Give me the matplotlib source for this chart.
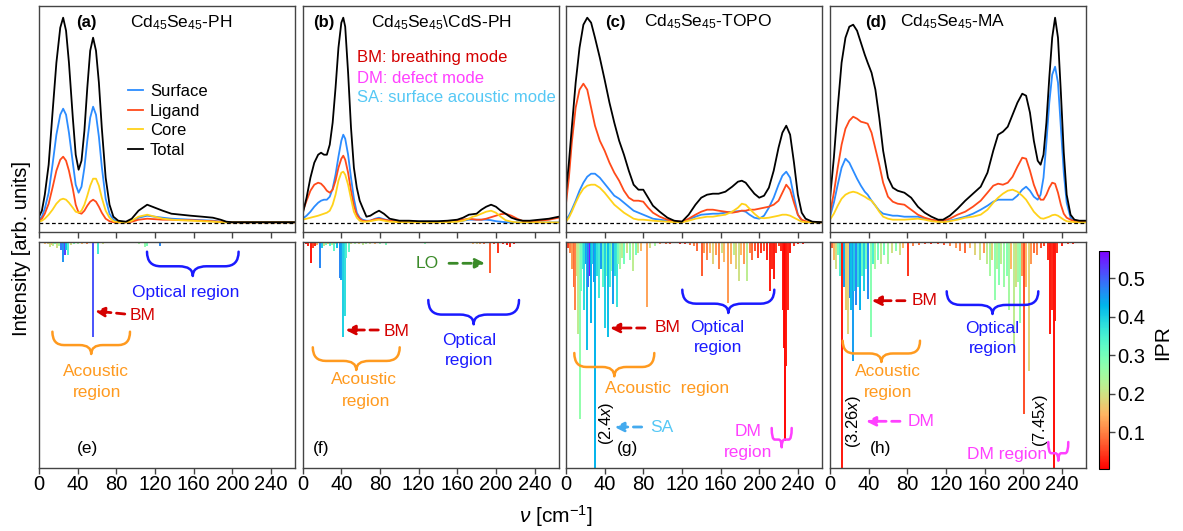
import numpy as np
import matplotlib
matplotlib.use('Agg')
import matplotlib.pyplot as plt
from matplotlib.path import Path
from matplotlib.patches import PathPatch, FancyArrowPatch
from matplotlib.colors import Normalize
from matplotlib.cm import ScalarMappable

plt.rcParams['font.family'] = ['Liberation Sans', 'DejaVu Sans']
plt.rcParams['mathtext.fontset'] = 'custom'
plt.rcParams['mathtext.rm'] = 'Liberation Sans'
plt.rcParams['mathtext.it'] = 'Liberation Sans:italic'
plt.rcParams['mathtext.bf'] = 'Liberation Sans:bold'

# ---------------- DATA: projected phonon DOS (top row) ----------------
a_x = [0,3,6,10,14,18,22,25,28,31,35,38,41,44,47,50,53,56,59,62,65,69,73,77,82,90,96,103,112,120,128,137,147,157,169,180,188,194,200,265]
a_total = [6,12,28,58,110,160,195,205,192,160,105,68,53,62,92,135,172,185,172,140,95,45,18,6,2,1,4,12,18,15,12,9,8,7,6,5,3,1,0.5,0.5]
a_surface = [3,6,14,30,58,88,108,114,108,90,60,38,30,36,55,82,105,116,108,86,56,24,9,3,1,0.5,1.5,5,7,6,5,4,3.5,3,2.5,2,1,0.5,0.3,0.3]
a_ligand = [2,4,9,19,35,52,63,66,62,52,34,18,10,9,12,17,21,23,21,16,10,4,1.5,0.5,0.3,0.3,1,3,4,3.5,3,3,2.5,2.5,2,1.5,1,0.5,0.3,0.3]
a_core = [1,2,4,8,13,19,23,24,23,20,15,11,10,12,18,27,37,44,44,37,25,12,5,1.5,0.5,0.3,2,6,8,6,4,3,2.5,2,1.5,1,0.5,0.3,0.3,0.3]

b_x = [0,4,8,12,16,19,22,25,28,31,34,37,40,42,44,47,50,53,56,59,62,66,70,75,79,84,90,100,110,120,130,140,150,160,166,172,176,180,185,190,195,200,205,210,216,222,228,235,245,255,265]
b_total = [9,25,45,60,68,70,68,68,78,100,135,175,200,205,196,150,95,55,35,22,15,6,7,10,12,9,4,2,2,1.5,1.5,1.5,2,3,5,8,8.5,9,13,16,18,16,12,9,5,3,2,2,3,4,6]
b_surface = [4,7,11,16,20,22,23,23,26,34,48,66,82,88,84,68,45,24,10,5,3,2,2,4,5,3.5,2,1.5,1,1,1,1,1,1.5,2,3,3,3,3,3,2.5,1.5,1,0.5,0.3,0.3,0.3,0.3,0.3,0.3,0.3]
b_ligand = [11,22,32,38,40,39,36,32,30,33,42,55,64,67,63,50,32,17,8,4,2,1.5,2,3.5,4,3,2,1,0.5,0.5,0.5,0.5,1,2,3,4,3.5,3,3,4,5.5,7,8.5,9,7,4,1.5,1,2,3,5]
b_core = [3,4,5,6,7,8,9,10,12,18,28,42,50,51,48,38,24,11,5,2,1,1,1.5,2.5,3,2,1,0.5,0.5,0.3,0.3,0.3,0.5,1,2,4,6,7,9,11,12,10,6,2.5,1,0.3,0.3,0.3,0.3,0.3,0.3]

c_x = [0,3,6,10,14,18,22,26,30,35,40,45,50,55,60,65,70,75,80,85,90,97,105,112,120,127,134,140,146,152,158,165,172,178,182,186,190,195,200,205,210,215,220,224,228,232,236,240,244,248,255,265]
c_total = [31,60,95,140,175,198,205,200,185,165,143,120,100,82,68,52,38,33,33,25,17,11,5,2,1,8,18,25,28,29,29,31,36,41,42,40,35,29,25,27,35,52,75,90,97,88,60,28,10,4,1,0.5]
c_surface = [3,7,13,22,32,40,46,49,49,45,39,33,27,24,20,16,12,10,8,6,4,3,2,1.5,1,3,6,8,8.5,9,9,10,11,11.5,12,11,8,5,4,7,15,25,38,47,51,45,26,8,2,0.5,0.3,0.3]
c_ligand = [19,45,80,115,133,139,133,115,97,82,72,60,50,42,32,25,22,22,21,15,10,6,3,1.5,1,4,8,11,13,13,12,11,10,11,12,12,13,13,14,15,16,18,22,30,38,33,20,8,3,1.5,0.5,0.3]
c_core = [1,5,11,20,28,34,37,38,38,35,30,24,18,14,10,7,4,3,3,2.5,2,1.5,1,0.5,0.3,2,4,5,6,6,7,8,11,15,19,18,14,9,5,4.5,5,6,7,8,8,7,5,3,1,0.5,0.3,0.3]

d_x = [0,4,8,12,16,20,24,28,32,36,39,43,47,51,55,60,65,70,77,84,91,98,105,112,117,124,132,140,148,156,163,169,174,179,184,189,194,199,203,207,211,215,218,221,224,227,230,233,236,239,242,245,249,253,258,265]
d_total = [24,65,115,160,185,196,198,192,180,168,160,150,133,105,72,45,35,32,30,25,16,10,6,3,3,7,14,22,29,36,50,72,88,91,96,108,120,129,127,110,82,62,58,68,100,145,185,205,185,130,70,28,8,3,2,2]
d_surface = [6,20,38,55,64,60,52,44,37,31,28,22,17,12,9,8,7,7,6,6,6,4,2.5,1.5,1,2,4,6,9,13,17,21,23,23,23,23,27,33,36,32,26,23,28,45,80,120,148,156,140,95,50,20,5,1,0.5,0.5]
d_ligand = [9,30,55,78,94,102,106,104,101,100,99,90,74,58,40,26,21,19,18,13,8,5,3,2,2,4,8,11,16,22,30,37,39,38,40,46,56,65,64,52,38,28,23,23,28,35,40,39,30,18,9,5,3,1.5,1,1]
d_core = [3,9,17,24,28,30,31,30,28,26,24,22,17,11,6,4,3,3,3,3.5,4,3,1.5,0.8,0.5,1.5,3,5,6,8,13,20,25,29,32,33,31,27,23,17,11,7,4.5,4,5,6,7.5,8,7,5,3,1.5,1,0.5,0.3,0.3]

# ---------------- DATA: mode intensities and IPR (bottom row) ----------------
e_freq = [6,9,11,13,15,17,19,21,23,25,26.5,28,30,33,36,40,45,50,56,61,66,72,80,88,96,104,109.5,111.5,118,125,132,140,150,160,170,180,190,200,210,220,232,245,258]
e_int = [0.008,0.012,0.025,0.015,0.02,0.012,0.028,0.018,0.035,0.09,0.06,0.035,0.06,0.015,0.01,0.008,0.01,0.008,0.42,0.056,0.008,0.006,0.005,0.006,0.005,0.008,0.025,0.018,0.006,0.02,0.005,0.006,0.005,0.004,0.005,0.004,0.004,0.005,0.004,0.004,0.003,0.003,0.003]
e_ipr = [0.15,0.18,0.2,0.16,0.22,0.3,0.2,0.25,0.48,0.46,0.53,0.42,0.34,0.2,0.3,0.25,0.15,0.1,0.51,0.36,0.2,0.1,0.25,0.15,0.08,0.25,0.27,0.3,0.05,0.47,0.1,0.12,0.05,0.08,0.03,0.06,0.02,0.04,0.03,0.02,0.03,0.02,0.03]

f_freq = [3,5,8.9,11,13,15,18.2,20,22,24,26,28,30,32,34,36,38.3,40,41.8,43.5,45.2,47.6,50,54,58,62,66,70,75,80,86,92,100,110,120,127,135,145,155,163,170,176,180,184,188,193.8,198,202.4,207,211,215,219,225,232,240,248,256,262]
f_int = [0.01,0.02,0.093,0.03,0.02,0.015,0.115,0.03,0.02,0.015,0.01,0.02,0.015,0.04,0.01,0.03,0.16,0.17,0.42,0.33,0.07,0.045,0.01,0.012,0.008,0.015,0.01,0.012,0.008,0.01,0.015,0.006,0.006,0.005,0.004,0.012,0.004,0.004,0.005,0.006,0.006,0.008,0.012,0.01,0.008,0.137,0.01,0.049,0.01,0.015,0.025,0.01,0.006,0.005,0.005,0.004,0.005,0.004]
f_ipr = [0.02,0.03,0.02,0.05,0.03,0.15,0.47,0.4,0.2,0.3,0.18,0.35,0.22,0.33,0.2,0.42,0.47,0.45,0.4,0.38,0.35,0.33,0.2,0.25,0.18,0.22,0.25,0.2,0.15,0.28,0.3,0.1,0.2,0.15,0.1,0.28,0.1,0.05,0.08,0.1,0.12,0.15,0.18,0.12,0.08,0.07,0.05,0.04,0.03,0.02,0.03,0.02,0.03,0.02,0.03,0.02,0.03,0.02]

g_freq = [2,4,6,8,9.3,11,12.8,14.5,16,17.5,19,20.3,21.4,23,24.5,25.5,27,28.5,30.1,32,34,36,38,40.4,42,43.9,46,47.5,49,50.8,52.5,54,56,58,60,63,66,69.8,72,75,78,83.6,87,92,97,103,108,113,118,123,
          128,132,136,140.6,143,146,149,152,155,158,161,164,168.2,171,174,176,178.6,181,184,187.2,190,193,196,199,202,205,208,211.4,213,214.8,217,220,223,
          225,226,227,228,229.5,232,236,240,245,250,256,261]
g_int = [0.03,0.05,0.12,0.2,0.3,0.15,0.41,0.786,0.22,0.12,0.3,0.1,0.477,0.2,0.153,0.36,0.1,0.18,2.4,0.15,0.25,0.12,0.2,0.38,0.15,0.42,0.2,0.13,0.276,0.15,0.29,0.1,0.12,0.07,0.1,0.05,0.08,0.13,0.06,0.05,0.04,0.29,0.03,0.02,0.012,0.008,0.01,0.006,0.008,0.01,
         0.015,0.02,0.04,0.15,0.05,0.08,0.05,0.1,0.06,0.12,0.05,0.09,0.27,0.1,0.06,0.12,0.175,0.06,0.1,0.175,0.05,0.08,0.04,0.07,0.05,0.04,0.08,0.218,0.12,0.166,0.05,0.02,0.04,
         0.3,0.47,0.88,0.55,0.3,0.05,0.02,0.01,0.008,0.006,0.005,0.005]
g_ipr = [0.05,0.1,0.12,0.08,0.1,0.2,0.22,0.27,0.3,0.35,0.38,0.45,0.42,0.48,0.56,0.43,0.4,0.47,0.43,0.38,0.36,0.45,0.33,0.4,0.3,0.42,0.35,0.28,0.45,0.38,0.37,0.3,0.25,0.22,0.3,0.2,0.28,0.22,0.3,0.2,0.15,0.13,0.2,0.25,0.1,0.08,0.05,0.03,0.02,0.04,
         0.08,0.1,0.08,0.07,0.12,0.1,0.15,0.18,0.12,0.1,0.2,0.15,0.12,0.14,0.22,0.18,0.2,0.15,0.12,0.22,0.1,0.08,0.06,0.05,0.04,0.06,0.03,0.025,0.03,0.02,0.04,0.05,0.03,
         0.02,0.015,0.01,0.02,0.03,0.02,0.04,0.03,0.02,0.03,0.02,0.03]

h_freq = [2,4,6,8,10,12.5,14,15.5,17,19,20.5,22,23.5,25,27,29,31,33,35,37,39.7,42.2,44,47,50,53,56,60,64,68,72,76,81.2,86,92,98,105,112,118,124,
          130,135,140,145,150,155,159,163,166,168,171,173,174.5,177,180,183,185,187,190,193,195,197,199,201,203,205.5,208,211,214,218,222,
          226,228,229.5,231.4,233,235,240,246,252,258,263]
h_int = [0.03,0.08,0.12,0.06,0.15,3.26,0.2,0.12,0.3,0.41,0.25,0.3,0.528,0.22,0.28,0.2,0.3,0.15,0.22,0.12,0.255,0.42,0.1,0.12,0.08,0.1,0.06,0.1,0.05,0.04,0.06,0.03,0.152,0.02,0.015,0.01,0.008,0.01,0.015,0.02,
         0.03,0.04,0.05,0.03,0.06,0.08,0.05,0.1,0.15,0.08,0.26,0.12,0.19,0.1,0.2,0.15,0.3,0.12,0.484,0.2,0.18,0.36,0.15,0.764,0.2,0.57,0.1,0.05,0.06,0.03,0.02,
         0.08,0.41,0.3,7.45,0.35,0.05,0.02,0.01,0.008,0.006,0.005]
h_ipr = [0.08,0.15,0.2,0.3,0.35,0.02,0.45,0.42,0.17,0.18,0.48,0.42,0.45,0.4,0.47,0.38,0.43,0.32,0.4,0.3,0.47,0.28,0.35,0.25,0.3,0.22,0.3,0.25,0.2,0.28,0.2,0.15,0.04,0.1,0.08,0.05,0.03,0.05,0.06,0.1,
         0.12,0.1,0.08,0.15,0.18,0.2,0.12,0.22,0.25,0.18,0.27,0.24,0.28,0.22,0.26,0.28,0.25,0.15,0.22,0.2,0.25,0.27,0.12,0.06,0.15,0.18,0.12,0.08,0.1,0.06,0.05,
         0.03,0.02,0.03,0.015,0.02,0.04,0.03,0.05,0.03,0.02,0.03]

titles = [r'Cd$_\mathregular{45}$Se$_\mathregular{45}$-PH',
          r'Cd$_\mathregular{45}$Se$_\mathregular{45}$\CdS-PH',
          r'Cd$_\mathregular{45}$Se$_\mathregular{45}$-TOPO',
          r'Cd$_\mathregular{45}$Se$_\mathregular{45}$-MA']
x_ticks = [0, 40, 80, 120, 160, 200, 240]
cbar_ticks = [0.1, 0.2, 0.3, 0.4, 0.5]

# ---------------- FIGURE ----------------
W, H = 1183, 531
fig = plt.figure(figsize=(W / 100, H / 100), dpi=100)

def fx(x):
    return x / W

def fy(y):
    return 1 - y / H

lefts = [39, 302.7, 566, 830]
AXW = 256
cmap = plt.get_cmap('rainbow_r')
norm = Normalize(vmin=0.004, vmax=0.572)

C_SURF, C_LIG, C_CORE = '#2b8cff', '#ff4a1a', '#ffd21a'
top_data = [(a_x, a_surface, a_ligand, a_core, a_total),
            (b_x, b_surface, b_ligand, b_core, b_total),
            (c_x, c_surface, c_ligand, c_core, c_total),
            (d_x, d_surface, d_ligand, d_core, d_total)]
bot_data = [(e_freq, e_int, e_ipr), (f_freq, f_int, f_ipr),
            (g_freq, g_int, g_ipr), (h_freq, h_int, h_ipr)]

def style(ax, labels):
    for s in ax.spines.values():
        s.set_color('#444444')
        s.set_linewidth(1.0)
    ax.set_xlim(0, 265)
    ax.set_xticks(x_ticks)
    ax.set_yticks([])
    ax.tick_params(axis='x', direction='out', length=4, width=1, color='#444444',
                   labelsize=14.5, pad=1.5, labelbottom=labels)

for i, l in enumerate(lefts):
    at = fig.add_axes([fx(l), fy(232), AXW / W, (232 - 6) / H])
    xs, su, li, co, to = top_data[i]
    at.plot(xs, su, color=C_SURF, lw=1.3, label='Surface')
    at.plot(xs, li, color=C_LIG, lw=1.3, label='Ligand')
    at.plot(xs, co, color=C_CORE, lw=1.3, label='Core')
    at.plot(xs, to, color='black', lw=1.3, label='Total')
    at.axhline(0, color='black', lw=0.9, dashes=(3, 2))
    at.set_ylim(-9.3, 216.7)
    style(at, False)
    if i == 0:
        at.legend(loc='upper left', bbox_to_anchor=(0.346, 0.655), frameon=False,
                  fontsize=12, handlelength=0.9, handletextpad=0.45,
                  labelspacing=0.28, borderpad=0, borderaxespad=0)

    ab = fig.add_axes([fx(l), fy(467.7), AXW / W, (467.7 - 241.7) / H])
    fr, it, ip = bot_data[i]
    ab.vlines(fr, 0, it, colors=cmap(norm(np.array(ip))), lw=1.4)
    ab.set_ylim(1, 0)
    style(ab, True)

# colorbar
cax = fig.add_axes([fx(1099.3), fy(469.3), 10 / W, (469.3 - 250.7) / H])
cb = fig.colorbar(ScalarMappable(norm=norm, cmap=cmap), cax=cax, ticks=cbar_ticks)
cb.ax.set_yticklabels(['%.1f' % t for t in cbar_ticks])
cb.ax.tick_params(labelsize=14.5, length=4, width=1, pad=2, color='#444444')
cb.outline.set_linewidth(0.8)
fig.text(fx(1163), fy(343), 'IPR', rotation=90, ha='center', va='center', fontsize=15)

# axis labels
fig.text(fx(22), fy(248), 'Intensity [arb. units]', rotation=90, ha='center', va='center', fontsize=14.5)
fig.text(fx(556), fy(516), r'$\nu$ [cm$^{-1}$]', ha='center', va='center', fontsize=15)

# panel labels and titles
for lab, lx, tx, ty, t in [('(a)', 76.6, 130, 23, titles[0]), ('(b)', 312.8, 371.4, 23, titles[1]),
                           ('(c)', 604.8, 643.8, 22, titles[2]), ('(d)', 865, 899.7, 22, titles[3])]:
    fig.text(fx(lx), fy(ty), lab, ha='left', va='center', fontsize=12, fontweight='bold')
    fig.text(fx(tx), fy(ty), t, ha='left', va='center', fontsize=12.5)

RED, MAG, LBLUE, ORANGE, BLUE, GREEN = '#d40000', '#ff40ff', '#55c8f5', '#ff9a1f', '#1a1aff', '#3a8a28'
fig.text(fx(357), fy(57.3), 'BM: breathing mode', color=RED, fontsize=12, va='center')
fig.text(fx(357), fy(78.3), 'DM: defect mode', color=MAG, fontsize=12, va='center')
fig.text(fx(357), fy(97.3), 'SA: surface acoustic mode', color=LBLUE, fontsize=12, va='center')


def brace(x0, x1, ytop, ytip, color, lw=1.8):
    xm = (x0 + x1) / 2.0
    ymid = ytop + 0.6 * (ytip - ytop)
    w = min((x1 - x0) * 0.15, (ytip - ytop) * 0.8)
    pts = [(x0, ytop), (x0, ymid), (x0 + w, ymid), (xm - w, ymid), (xm, ymid), (xm, ytip),
           (xm, ymid), (xm + w, ymid), (x1 - w, ymid), (x1, ymid), (x1, ytop)]
    codes = [Path.MOVETO, Path.CURVE3, Path.CURVE3, Path.LINETO, Path.CURVE3, Path.CURVE3,
             Path.CURVE3, Path.CURVE3, Path.LINETO, Path.CURVE3, Path.CURVE3]
    verts = [(fx(px), fy(py)) for px, py in pts]
    fig.add_artist(PathPatch(Path(verts, codes), fill=False, edgecolor=color, lw=lw,
                             transform=fig.transFigure, capstyle='round', joinstyle='round'))


def arrow(tail, head, color):
    fig.add_artist(FancyArrowPatch((fx(tail[0]), fy(tail[1])), (fx(head[0]), fy(head[1])),
                                   transform=fig.transFigure, arrowstyle='-|>', mutation_scale=14,
                                   lw=2, linestyle=(0, (3, 2)), color=color, shrinkA=0, shrinkB=0))


def txt(x, y, s, color, ha='center', size=12.5, rot=0):
    fig.text(fx(x), fy(y), s, color=color, ha=ha, va='center', fontsize=size, rotation=rot)

# (e)
txt(76.6, 448.3, '(e)', 'black', ha='left', size=12.5)
brace(52.4, 130, 331.7, 354, ORANGE)
txt(95.5, 371.7, 'Acoustic', ORANGE)
txt(97.2, 392.7, 'region', ORANGE)
brace(147, 238.6, 251.7, 276, BLUE)
txt(185.9, 292.3, 'Optical region', BLUE)
arrow((124.8, 314), (94.8, 311), RED)
txt(130, 316, 'BM', RED, ha='left')

# (f)
txt(312.8, 448, '(f)', 'black', ha='left', size=12.5)
arrow((378.3, 330), (345.5, 330), RED)
txt(383.4, 331, 'BM', RED, ha='left')
txt(416, 263.3, 'LO', GREEN, ha='left')
arrow((449, 263.3), (485, 263.3), GREEN)
brace(312.8, 399.7, 347.3, 370, ORANGE)
txt(363.8, 380, 'Acoustic', ORANGE)
txt(366, 401.7, 'region', ORANGE)
brace(428.3, 519, 300, 324.3, BLUE)
txt(469, 340, 'Optical', BLUE)
txt(469, 360, 'region', BLUE)

# (g)
arrow((645, 328), (610, 328), RED)
txt(655, 328, 'BM', RED, ha='left')
brace(682.3, 774.3, 289.7, 313, BLUE)
txt(716.7, 327.3, 'Optical', BLUE)
txt(718.3, 347.3, 'region', BLUE)
brace(574.3, 654.3, 353, 376.3, ORANGE)
txt(666.7, 388, 'Acoustic  region', ORANGE)
txt(606.7, 423, r'(2.4$x$)', 'black', size=12, rot=90)
arrow((641.7, 427), (614.3, 427), '#44aaee')
txt(650, 427, 'SA', LBLUE, ha='left')
txt(616.7, 448.7, '(g)', 'black', ha='left', size=12.5)
txt(747.7, 432, 'DM', MAG)
txt(748.3, 453, 'region', MAG)
brace(771.7, 791.7, 428, 447.3, MAG)

# (h)
arrow((905, 300.7), (871.7, 300.7), RED)
txt(911.7, 300.7, 'BM', RED, ha='left')
brace(946.7, 1038.3, 291.3, 314, BLUE)
txt(991.7, 328, 'Optical', BLUE)
txt(992.7, 349, 'region', BLUE)
brace(842.7, 920, 340.7, 362, ORANGE)
txt(888.3, 372, 'Acoustic', ORANGE)
txt(888.3, 393, 'region', ORANGE)
txt(853.3, 422, r'(3.26$x$)', 'black', size=12, rot=90)
arrow((900, 421.3), (866, 421.3), MAG)
txt(907.3, 421.3, 'DM', MAG, ha='left')
txt(870, 448.7, '(h)', 'black', ha='left', size=12.5)
txt(1041, 420.7, r'(7.45$x$)', 'black', size=12, rot=90)
txt(1006.7, 454.7, 'DM region', MAG)
brace(1048.3, 1068.3, 442, 460.7, MAG)

fig.savefig('out.png', dpi=100)
